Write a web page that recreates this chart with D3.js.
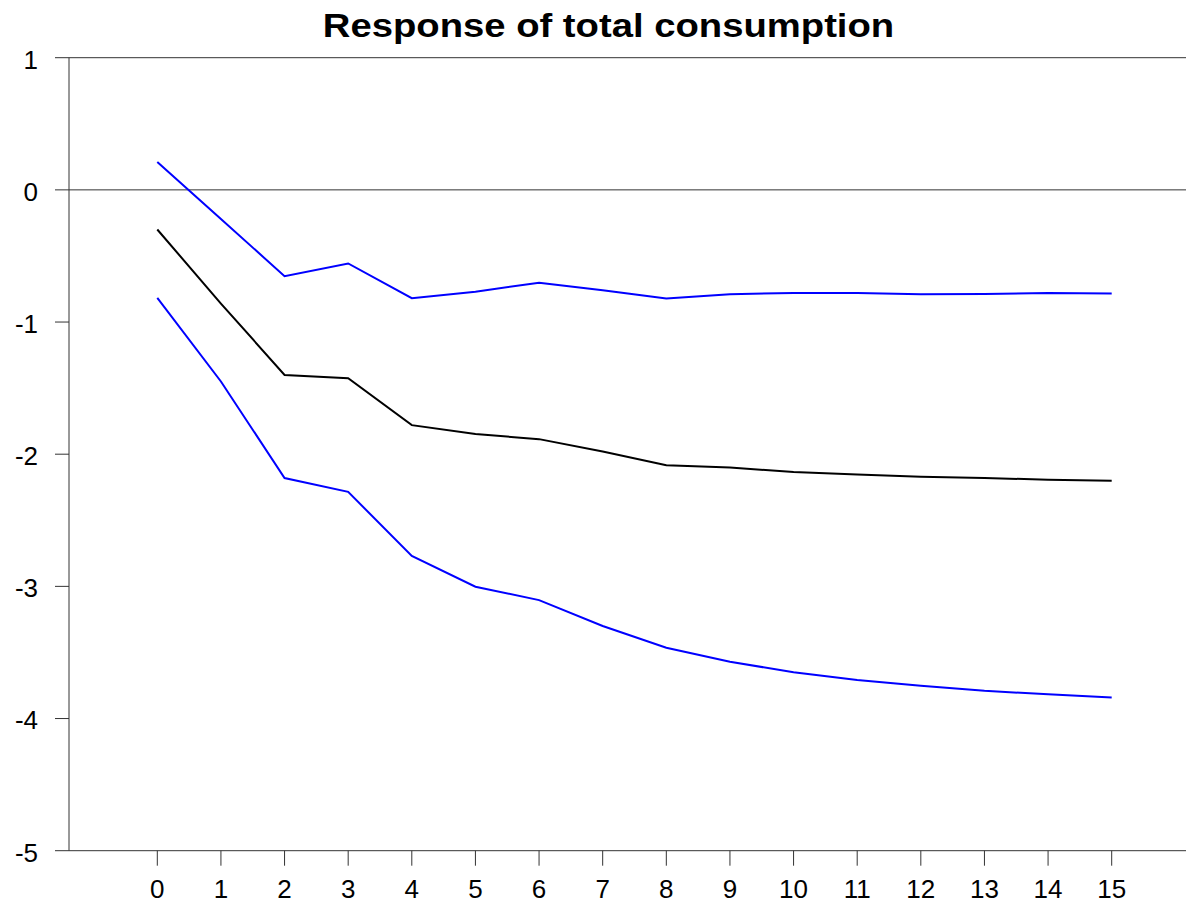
<!DOCTYPE html>
<html>
<head>
<meta charset="utf-8">
<script src="https://cdn.jsdelivr.net/npm/d3@7"></script>
<style>
  html, body { margin: 0; padding: 0; background: #fff; }
  svg { display: block; }
</style>
</head>
<body>
<script>
const title = "Response of total consumption";
const horizons = [0,1,2,3,4,5,6,7,8,9,10,11,12,13,14,15];
const response = [-0.30,-0.86,-1.40,-1.425,-1.78,-1.848,-1.886,-1.98,-2.083,-2.10,-2.135,-2.153,-2.17,-2.18,-2.193,-2.20];
const upperBand = [0.21,-0.22,-0.653,-0.557,-0.82,-0.77,-0.703,-0.76,-0.822,-0.79,-0.78,-0.78,-0.79,-0.787,-0.78,-0.784];
const lowerBand = [-0.817,-1.45,-2.18,-2.285,-2.77,-3.003,-3.104,-3.30,-3.464,-3.57,-3.65,-3.709,-3.752,-3.79,-3.817,-3.84];
const yTicks = [1,0,-1,-2,-3,-4,-5];

const W = 1186, H = 903;
const svg = d3.select("body").append("svg").attr("width", W).attr("height", H);

const x = d3.scaleLinear().domain([0, 15]).range([157.3, 1111.7]);
const y = d3.scaleLinear().domain([1, -5]).range([57.7, 850.7]);
const left = 69, right = W;
const font = "'Liberation Sans', Arial, sans-serif";

// Title
svg.append("text")
  .attr("transform", "translate(608.5,36.7) scale(1.125,1)")
  .attr("text-anchor", "middle")
  .attr("font-family", font).attr("font-weight", "bold").attr("font-size", 34)
  .attr("fill", "#000").text(title);

// Y axis line
svg.append("line").attr("x1", left).attr("x2", left).attr("y1", y(1)).attr("y2", y(-5))
  .attr("stroke", "#333").attr("stroke-width", 1);

// Y ticks and labels
const yg = svg.append("g");
yTicks.forEach(t => {
  yg.append("line").attr("x1", 55).attr("x2", left).attr("y1", y(t)).attr("y2", y(t))
    .attr("stroke", "#333").attr("stroke-width", 1);
  yg.append("text").attr("x", 38).attr("y", y(t) + 4).attr("text-anchor", "end")
    .attr("dominant-baseline", "middle")
    .attr("font-family", font).attr("font-size", 26).attr("fill", "#000").text(t);
});

// Horizontal lines at 1, 0 and -5 across the plot
[1, 0, -5].forEach(t => {
  svg.append("line").attr("x1", left).attr("x2", right).attr("y1", y(t)).attr("y2", y(t))
    .attr("stroke", "#333").attr("stroke-width", 1);
});

// X ticks and labels
const xg = svg.append("g");
horizons.forEach(h => {
  xg.append("line").attr("x1", x(h)).attr("x2", x(h)).attr("y1", y(-5)).attr("y2", y(-5) + 15)
    .attr("stroke", "#333").attr("stroke-width", 1);
  xg.append("text").attr("x", x(h)).attr("y", 898).attr("text-anchor", "middle")
    .attr("font-family", font).attr("font-size", 26).attr("fill", "#000").text(h);
});

// Lines
const line = d3.line().x((d, i) => x(horizons[i])).y(d => y(d));
[[upperBand, "#0000ff"], [lowerBand, "#0000ff"], [response, "#000000"]].forEach(([s, c]) => {
  svg.append("path").datum(s).attr("d", line).attr("fill", "none")
    .attr("stroke", c).attr("stroke-width", 2).attr("stroke-linejoin", "miter");
});
</script>
</body>
</html>
